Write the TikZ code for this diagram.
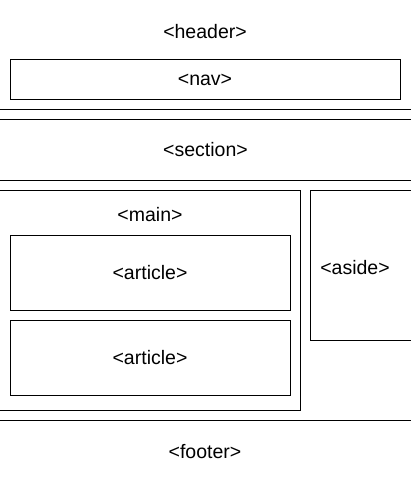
\documentclass[tikz,border=0pt]{standalone}
\usepackage{fontspec}
\setmainfont{Liberation Sans}

\begin{document}
\begin{tikzpicture}[x=1pt,y=-1pt,
		tagbox/.style={draw, line width=1pt, inner sep=0pt},
		tag/.style={font=\fontsize{19.5}{22}\selectfont}]
	\useasboundingbox (0,0) rectangle (411,481);
	\clip (0,0) rectangle (411,481);

	% header with nav
	\node[tagbox, minimum width=421pt, minimum height=115pt] (header) at (205.5,52.5) {};
	\node[tag] (headertag) at (205,32) {<header>};
	\node[tagbox, minimum width=390pt, minimum height=40pt, tag] (nav) at (205,80) {<nav>};

	% section
	\node[tagbox, minimum width=421pt, minimum height=60pt, tag] (section) at (205.5,150) {<section>};

	% main with articles
	\node[tagbox, minimum width=305pt, minimum height=220pt] (main) at (147.5,300) {};
	\node[tag] (maintag) at (150,215) {<main>};
	\node[tagbox, minimum width=280pt, minimum height=75pt, tag] (article1) at (150,272.5) {<article>};
	\node[tagbox, minimum width=280pt, minimum height=75pt, tag] (article2) at (150,357.5) {<article>};

	% aside
	\node[tagbox, minimum width=106pt, minimum height=150pt] (aside) at (363,265) {};
	\node[tag] (asidetag) at (355,268) {<aside>};

	% footer
	\node[tagbox, minimum width=421pt, minimum height=65pt, tag] (footer) at (205.5,452.5) {};
	\node[tag] (footertag) at (205,452) {<footer>};
\end{tikzpicture}
\end{document}
